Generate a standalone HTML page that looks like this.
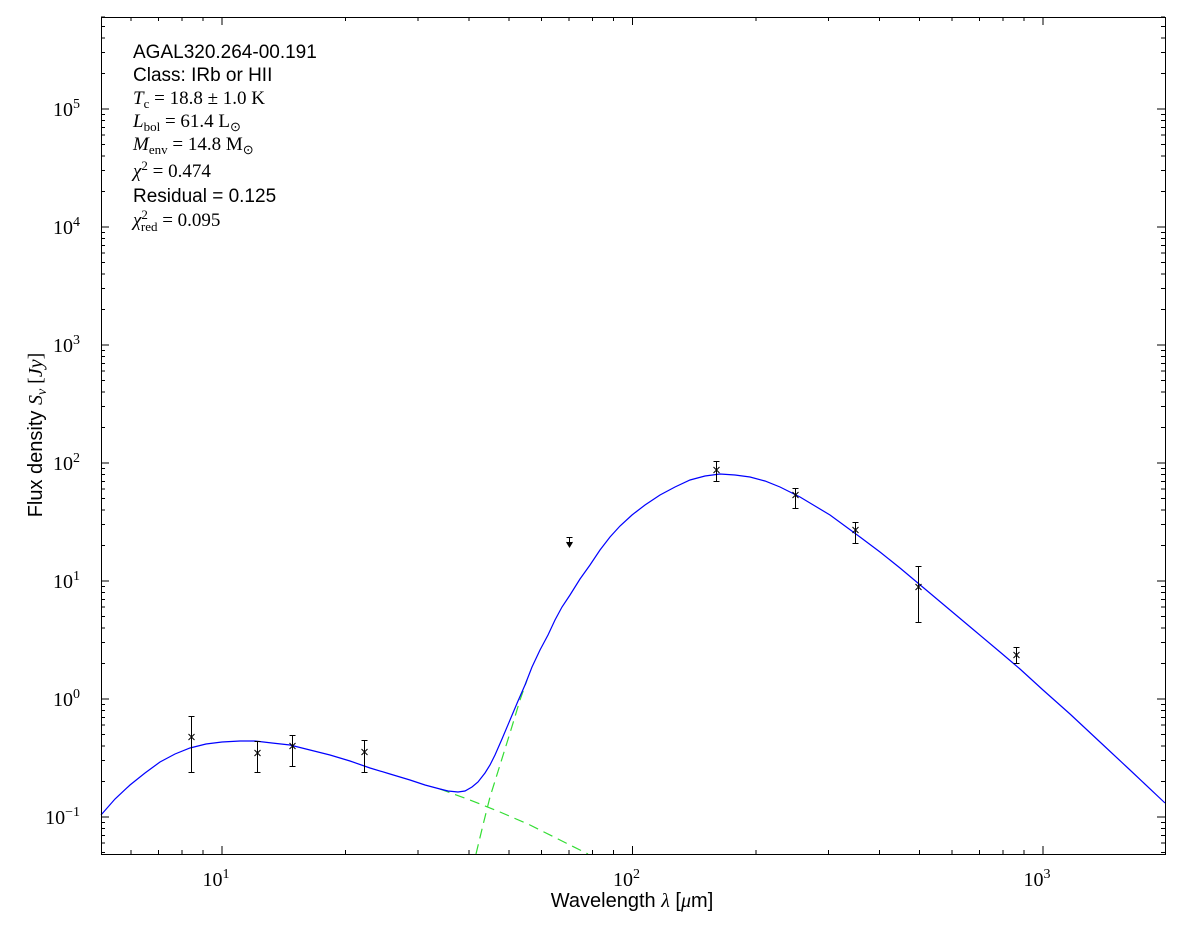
<!DOCTYPE html>
<html><head><meta charset="utf-8">
<style>
body{margin:0;background:#fff;}
svg text{font-family:"Liberation Serif",serif;fill:#000;}
.s{font-family:"Liberation Sans",sans-serif !important;}
</style></head><body>
<svg id="c" width="1200" height="933" xmlns="http://www.w3.org/2000/svg">
<rect width="1200" height="933" fill="#fff"/>
<g id="ticks" stroke="#000" stroke-width="1" shape-rendering="crispEdges"></g>
<path fill="none" stroke="#33dd33" stroke-width="1.2" stroke-dasharray="10,6" d="M440,789 L470,800 L500,812 L530,825 L560,840 L588,854"/>
<path fill="none" stroke="#33dd33" stroke-width="1.2" stroke-dasharray="10,6" d="M476,854 L483,825 L490,797 L500,765 L510,733 L520,700 L527,680"/>
<path fill="none" stroke="#0000ff" stroke-width="1.2" d="M101,815 L115,799 L130,785 L145,773 L160,762 L175,754 L190,748 L206,744 L222,742 L240,741 L255,741 L272,743 L290,745 L310,750 L330,755 L350,761 L370,768 L390,774 L410,780 L425,785 L440,789 L448,791 L458,792 L465,791 L472,787 L478,782 L485,773 L490,765 L495,755 L502,739 L510,720 L518,701 L525,685 L532,667 L540,650 L548,635 L555,620 L562,607 L570,595 L580,579 L590,565 L600,550 L610,537 L620,526 L632,515 L645,505 L660,495 L675,487 L690,480 L705,476 L720,474 L735,475 L750,477 L765,481 L780,487 L790,492 L800,497 L815,506 L830,515 L845,526 L860,537 L880,552 L900,568 L925,589 L950,610 L975,631 L1000,652 L1020,669 L1043,690 L1070,714 L1100,742 L1130,770 L1165,803"/>
<g id="pts" stroke="#000" stroke-width="1" fill="none"></g>
<rect x="101.5" y="17.5" width="1064" height="837" fill="none" stroke="#000" stroke-width="1"/>
<g font-size="19">
<text x="133" y="58" class="s">AGAL320.264-00.191</text>
<text x="133" y="81" class="s">Class: IRb or HII</text>
<text x="133" y="104"><tspan font-style="italic">T</tspan><tspan font-size="13" dy="4">c</tspan><tspan dy="-4"> = 18.8 ± 1.0 K</tspan></text>
<text x="133" y="127"><tspan font-style="italic">L</tspan><tspan font-size="13" dy="4">bol</tspan><tspan dy="-4"> = 61.4 L</tspan><tspan font-size="13" dy="4">⊙</tspan></text>
<text x="133" y="150"><tspan font-style="italic">M</tspan><tspan font-size="13" dy="4">env</tspan><tspan dy="-4"> = 14.8 M</tspan><tspan font-size="13" dy="4">⊙</tspan></text>
<text x="133" y="177"><tspan font-style="italic">χ</tspan><tspan font-size="13" dy="-7">2</tspan><tspan dy="7"> = 0.474</tspan></text>
<text x="133" y="202" class="s">Residual = 0.125</text>
<text x="133" y="226"><tspan font-style="italic">χ</tspan><tspan font-size="13" dy="-7">2</tspan><tspan font-size="13" dx="-7" dy="12">red</tspan><tspan dy="-5"> = 0.095</tspan></text>
</g>
<text x="632" y="907" font-size="20" text-anchor="middle" class="s">Wavelength <tspan font-family="Liberation Serif" font-style="italic">λ</tspan> [<tspan font-family="Liberation Serif" font-style="italic">μ</tspan>m]</text>
<text transform="translate(42,435) rotate(-90)" font-size="20" text-anchor="middle" class="s">Flux density <tspan font-family="Liberation Serif" font-style="italic">S</tspan><tspan font-family="Liberation Serif" font-style="italic" font-size="14" dy="4">ν</tspan><tspan font-family="Liberation Serif" dy="-4"> [</tspan><tspan font-family="Liberation Serif" font-style="italic">Jy</tspan><tspan font-family="Liberation Serif">]</tspan></text>
<g id="labels" font-size="20"></g>
</svg>
<script>
var NS="http://www.w3.org/2000/svg";
function el(p,t,a,txt){var e=document.createElementNS(NS,t);for(var k in a)e.setAttribute(k,a[k]);if(txt!==undefined)e.textContent=txt;p.appendChild(e);return e;}
var T=document.getElementById('ticks'),L=document.getElementById('labels'),P=document.getElementById('pts');
var X0=101,X1=1165,Y0=17,Y1=854;
function xp(l){return 222+(l-1)*410.5;}
function yp(l){return 817-(l+1)*118;}
for(var d=0;d<=3;d++){for(var m=1;m<10;m++){var l=d+Math.log10(m);var x=xp(l);if(x<X0||x>X1)continue;var len=m==1?8:4;
el(T,'line',{x1:x,y1:Y1,x2:x,y2:Y1-len});el(T,'line',{x1:x,y1:Y0,x2:x,y2:Y0+len});
if(m==1){var t=el(L,'text',{x:x-6,y:886,'text-anchor':'middle'},'10');el(t,'tspan',{'font-size':'14',dy:'-8'},String(d));}}}
for(var d=-2;d<=5;d++){for(var m=1;m<10;m++){var l=d+Math.log10(m);var y=yp(l);if(y<Y0||y>Y1)continue;var len=m==1?8:4;
el(T,'line',{x1:X0,y1:y,x2:X0+len,y2:y});el(T,'line',{x1:X1,y1:y,x2:X1-len,y2:y});
if(m==1){var t=el(L,'text',{x:80,y:y+7,'text-anchor':'end'},'10');el(t,'tspan',{'font-size':'14',dy:'-8'},d<0?'−'+(-d):String(d));}}}
var pts=[[191,737,716,772],[257,753,741,772],[292,746,735,766],[364,752,740,772],[716,470,461,481],[795,495,488,508],[855,530,522,543],[918,587,566,622],[1016,655,647,663]];
pts.forEach(function(p){var x=p[0]+0.5;el(P,'line',{x1:x,y1:p[2],x2:x,y2:p[3]});el(P,'line',{x1:x-3,y1:p[2]+0.5,x2:x+3,y2:p[2]+0.5});el(P,'line',{x1:x-3,y1:p[3]+0.5,x2:x+3,y2:p[3]+0.5});
el(P,'path',{d:'M'+(x-3)+','+(p[1]-3)+'l6,6m0,-6l-6,6'});});
el(P,'line',{x1:569.5,y1:537,x2:569.5,y2:545});el(P,'line',{x1:566.5,y1:537.5,x2:572.5,y2:537.5});el(P,'path',{d:'M566.5,542 L569.5,547 L572.5,542',fill:'#000'});
</script>
</body></html>
